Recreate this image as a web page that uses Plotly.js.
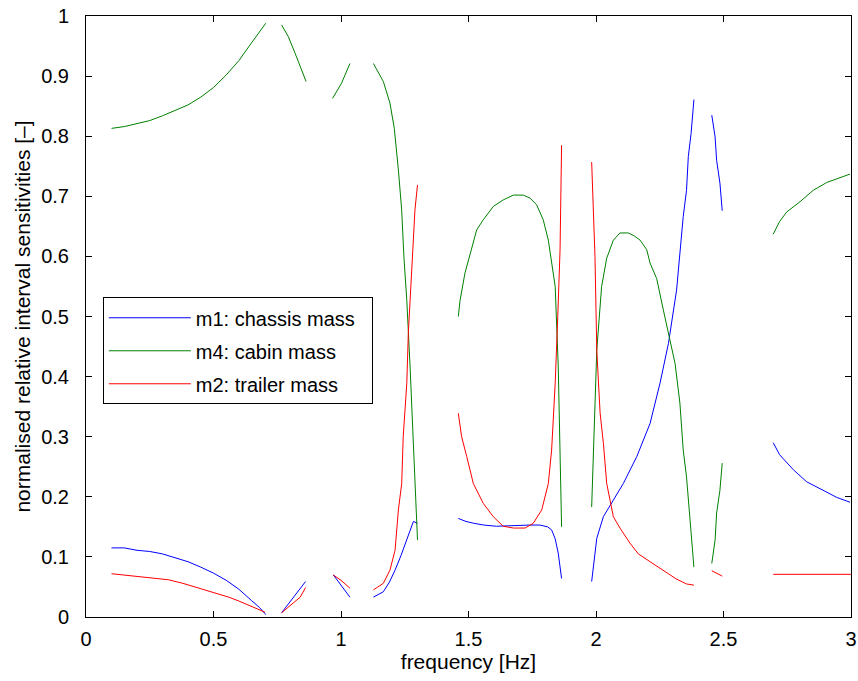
<!DOCTYPE html>
<html>
<head>
<meta charset="utf-8">
<script src="https://cdn.plot.ly/plotly-3.0.1.min.js"></script>
<style>html,body{margin:0;padding:0;background:#fff;}#chart{width:858px;height:681px;}</style>
</head>
<body>
<div id="chart"></div>
<script>
// m1: chassis mass (null = gap)
var m1X = [0.10,0.15,0.20,0.25,0.30,0.35,0.40,0.45,0.50,0.55,0.60,0.65,0.68,0.705,null,
  0.767,0.80,0.83,0.861,null,
  0.97,1.00,1.035,null,
  1.127,1.166,1.19,1.212,1.235,1.258,1.284,1.30,null,
  1.46,1.49,1.52,1.56,1.61,1.65,1.69,1.74,1.78,1.81,1.826,1.84,1.852,1.865,null,
  1.983,2.003,2.029,2.07,2.107,2.16,2.212,2.251,2.284,2.316,2.342,2.355,2.362,2.373,2.384,null,
  2.454,2.467,2.473,2.486,2.495,null,
  2.695,2.72,2.774,2.826,2.89,2.944,2.996];
var m1Y = [0.115,0.115,0.111,0.109,0.105,0.099,0.092,0.083,0.073,0.061,0.046,0.027,0.016,0.004,null,
  0.007,0.025,0.041,0.059,null,
  0.070,0.053,0.033,null,
  0.033,0.042,0.058,0.078,0.102,0.128,0.159,0.156,null,
  0.164,0.159,0.156,0.153,0.151,0.152,0.153,0.153,0.153,0.150,0.145,0.130,0.106,0.064,null,
  0.059,0.131,0.167,0.196,0.222,0.267,0.322,0.389,0.455,0.544,0.666,0.710,0.766,0.805,0.861,null,
  0.835,0.799,0.760,0.722,0.676,null,
  0.290,0.270,0.245,0.225,0.211,0.199,0.191];

// m4: cabin mass
var m4X = [0.10,0.15,0.20,0.25,0.30,0.35,0.40,0.45,0.50,0.55,0.60,0.64,0.676,0.705,null,
  0.767,0.793,0.82,0.846,0.863,null,
  0.967,1.002,1.035,null,
  1.127,1.166,1.192,1.209,1.225,1.238,1.247,1.258,1.271,1.284,1.30,null,
  1.46,1.467,1.486,1.51,1.532,1.558,1.597,1.636,1.676,1.715,1.741,1.767,1.793,1.813,1.822,1.84,1.852,1.865,null,
  1.983,2.003,2.022,2.042,2.068,2.094,2.127,2.15,2.173,2.199,2.212,2.238,2.264,2.29,2.31,2.329,2.342,2.355,2.369,2.384,null,
  2.454,2.467,2.473,2.486,2.495,null,
  2.695,2.72,2.748,2.80,2.852,2.905,2.957,2.996];
var m4Y = [0.813,0.816,0.821,0.826,0.834,0.843,0.852,0.865,0.881,0.902,0.926,0.950,0.971,0.988,null,
  0.985,0.966,0.938,0.910,0.891,null,
  0.863,0.888,0.921,null,
  0.921,0.891,0.855,0.813,0.744,0.677,0.597,0.527,0.416,0.278,0.128,null,
  0.500,0.527,0.572,0.611,0.644,0.661,0.683,0.694,0.702,0.702,0.697,0.686,0.661,0.627,0.600,0.550,0.416,0.150,null,
  0.183,0.444,0.550,0.597,0.627,0.639,0.639,0.634,0.627,0.611,0.589,0.563,0.511,0.461,0.422,0.356,0.278,0.233,0.156,0.083,null,
  0.089,0.128,0.173,0.211,0.256,null,
  0.637,0.658,0.674,0.691,0.710,0.723,0.731,0.737];

// m2: trailer mass
var m2X = [0.10,0.166,0.25,0.323,0.38,0.427,0.47,0.519,0.56,0.597,0.63,0.663,0.702,null,
  0.767,0.79,0.82,0.84,0.861,null,
  0.97,1.00,1.035,null,
  1.127,1.166,1.192,1.212,1.225,1.238,1.244,1.258,1.264,1.275,1.281,1.29,1.30,null,
  1.46,1.473,1.493,1.519,1.558,1.597,1.636,1.676,1.722,1.754,1.787,1.813,1.826,1.84,1.85,1.859,1.865,null,
  1.983,1.99,1.996,2.003,2.016,2.029,2.042,2.068,2.094,2.133,2.166,2.212,2.264,2.316,2.355,2.384,null,
  2.454,2.473,2.495,null,
  2.695,3.0];
var m2Y = [0.072,0.069,0.066,0.062,0.056,0.050,0.045,0.039,0.033,0.027,0.021,0.014,0.008,null,
  0.007,0.015,0.025,0.033,0.049,null,
  0.070,0.061,0.048,null,
  0.045,0.056,0.078,0.111,0.178,0.222,0.300,0.389,0.472,0.555,0.611,0.677,0.719,null,
  0.339,0.300,0.267,0.222,0.189,0.167,0.151,0.148,0.148,0.156,0.178,0.222,0.278,0.389,0.500,0.611,0.785,null,
  0.757,0.677,0.600,0.444,0.340,0.289,0.222,0.167,0.148,0.123,0.105,0.092,0.078,0.063,0.055,0.053,null,
  0.077,0.073,0.068,null,
  0.071,0.071];

var seriesNames = ['m1: chassis mass', 'm4: cabin mass', 'm2: trailer mass'];
var xTicks = [0,0.5,1,1.5,2,2.5,3];
var xTickText = ['0','0.5','1','1.5','2','2.5','3'];
var yTicks = [0,0.1,0.2,0.3,0.4,0.5,0.6,0.7,0.8,0.9,1];
var yTickText = ['0','0.1','0.2','0.3','0.4','0.5','0.6','0.7','0.8','0.9','1'];

var FONT = 'Liberation Sans, Arial, sans-serif';
var PAD = '\u00a0\u00a0';
var traces = [
  {x:m1X, y:m1Y, name:seriesNames[0] + PAD, legendgroup:'a', mode:'lines', connectgaps:false, line:{color:'#0000ff', width:1}},
  {x:m4X, y:m4Y, name:seriesNames[1] + PAD, legendgroup:'b', mode:'lines', connectgaps:false, line:{color:'#008000', width:1}},
  {x:m2X, y:m2Y, name:seriesNames[2] + PAD, legendgroup:'c', mode:'lines', connectgaps:false, line:{color:'#ff0000', width:1}}
];

var axisCommon = {
  showgrid:false, zeroline:false, showline:true, linecolor:'#000', linewidth:1,
  mirror:'ticks', ticks:'inside', ticklen:6, tickcolor:'#000', tickwidth:1,
  automargin:false,
  tickfont:{family:FONT, size:20, color:'#000'}
};

var layout = {
  width:858, height:681,
  margin:{l:86, r:7, t:16, b:64},
  paper_bgcolor:'#fff', plot_bgcolor:'#fff',
  showlegend:true,
  legend:{x:0.022, y:0.532, xanchor:'left', yanchor:'top', bgcolor:'#fff',
    bordercolor:'#000', borderwidth:1, itemwidth:82, tracegroupgap:4,
    font:{family:FONT, size:20, color:'#000'}},
  xaxis:Object.assign({}, axisCommon, {range:[0,3], tickmode:'array', tickvals:xTicks, ticktext:xTickText,
    ticklabelstandoff:4,
    title:{text:'frequency [Hz]', font:{family:FONT, size:21, color:'#000'}, standoff:0}}),
  yaxis:Object.assign({}, axisCommon, {range:[0,1], tickmode:'array', tickvals:yTicks, ticktext:yTickText,
    ticklabelstandoff:12,
    title:{text:'normalised relative interval sensitivities [–]', font:{family:FONT, size:21, color:'#000'}, standoff:4}})
};

Plotly.newPlot('chart', traces, layout, {displayModeBar:false, staticPlot:true});
</script>
</body>
</html>
